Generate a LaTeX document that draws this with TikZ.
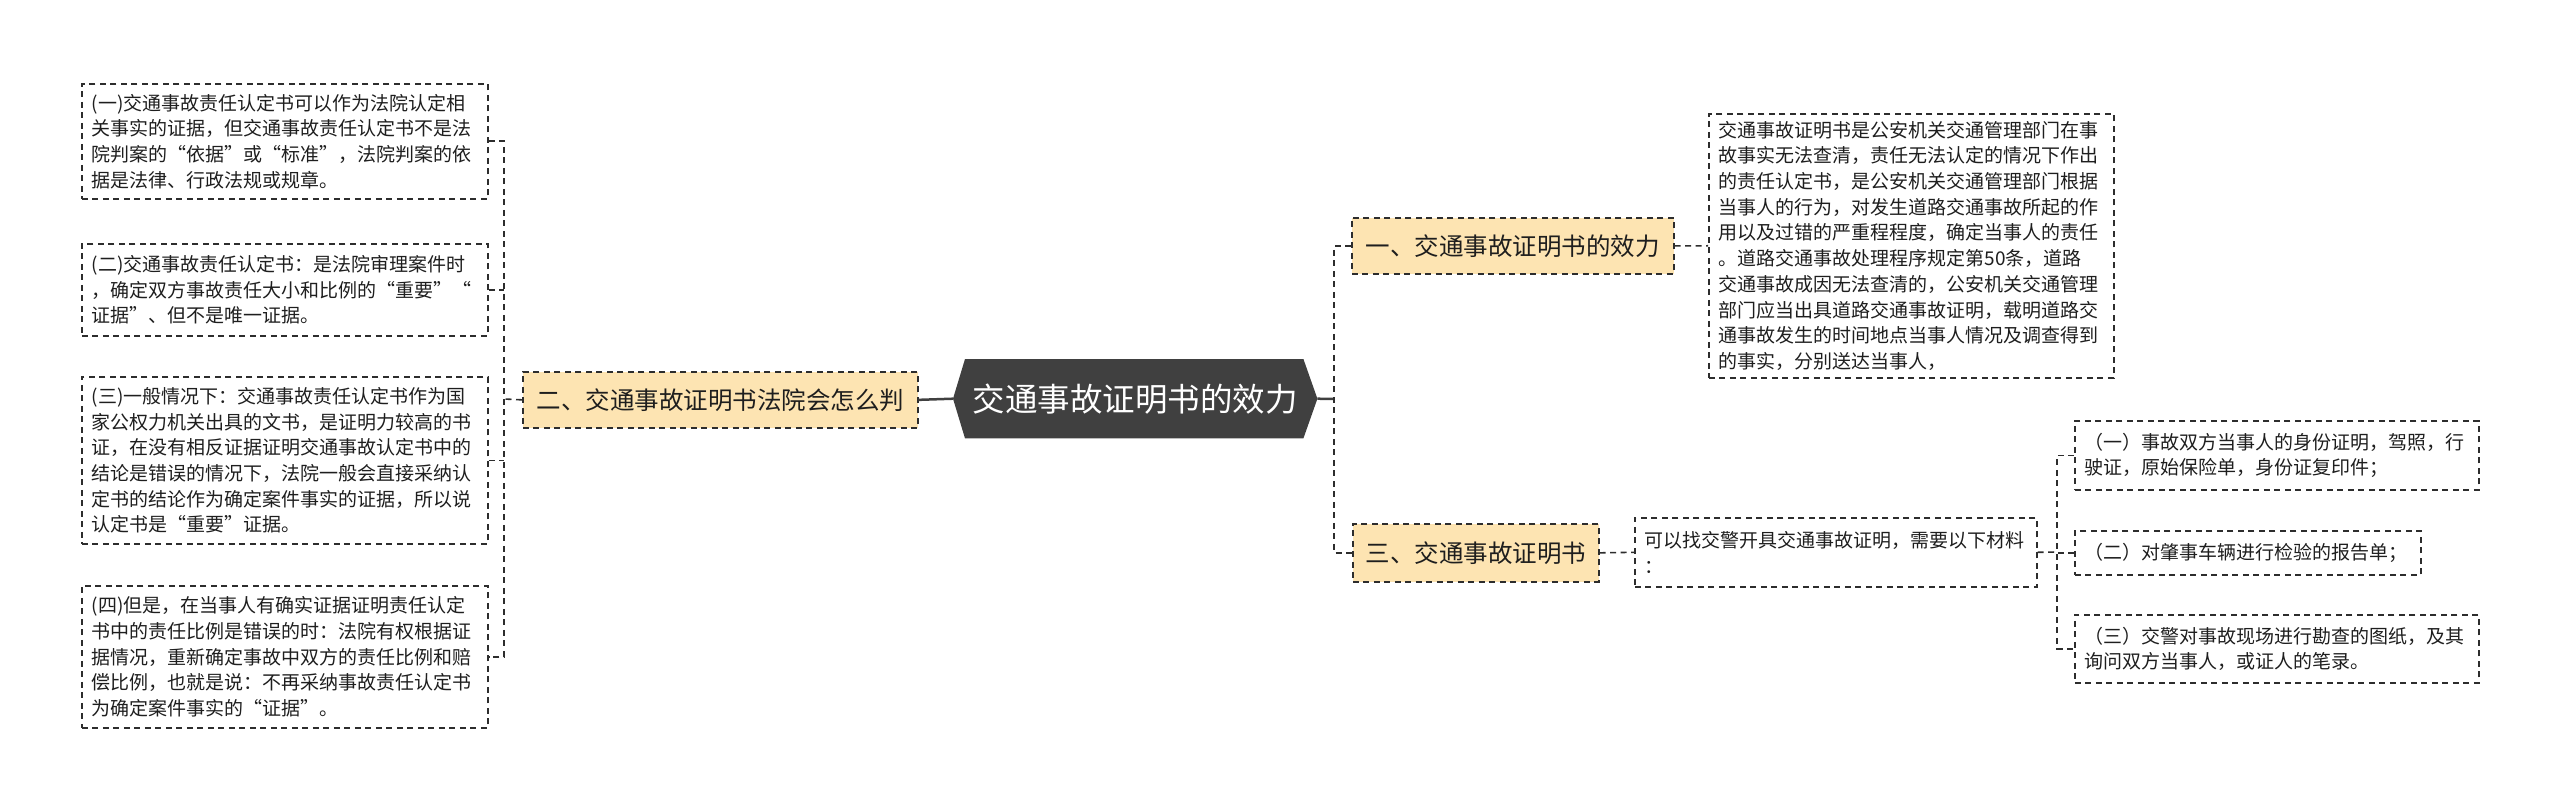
\documentclass[tikz,border=0pt]{standalone}
\usepackage{fontspec}
\setmainfont{Noto Sans CJK SC}
\definecolor{linegray}{RGB}{45,45,45}
\definecolor{boxyellow}{RGB}{253,228,178}
\definecolor{rootgray}{RGB}{64,64,64}
\definecolor{txt}{RGB}{30,30,30}
\pgfdeclarelayer{background}
\pgfsetlayers{background,main}
\newcommand\smalltext{\fontsize{19pt}{25.7pt}\selectfont}
\newcommand\midtext{\fontsize{24.5pt}{29pt}\selectfont}
\newcommand\roottext{\fontsize{32.5pt}{38pt}\selectfont}
\tikzset{
  dashpat/.style={dash pattern=on 6pt off 4.5pt},
  textbox/.style={draw=linegray, line width=1.6pt, dashpat, anchor=north west, rectangle,
    inner xsep=10pt, inner ysep=0pt, align=left, font=\smalltext, text=txt},
  topic/.style={draw=linegray, line width=1.7pt, dashpat, fill=boxyellow, anchor=north west,
    rectangle, inner sep=0pt, align=center, font=\midtext, text=txt},
  rootnode/.style={anchor=north west, rectangle, inner sep=0pt, align=center,
    font=\roottext, text=white},
  conn/.style={draw=linegray, line width=1.6pt, dashpat},
  rootline/.style={draw=rootgray, line width=2.5pt},
}
\begin{document}
\begin{tikzpicture}[x=1pt,y=-1pt]
\useasboundingbox (0,0) rectangle (2560,810);

% left detail boxes
\node[textbox, text width=386pt, minimum width=406pt, minimum height=115pt] (L1) at (81,83)
{(一)交通事故责任认定书可以作为法院认定相\\关事实的证据，但交通事故责任认定书不是法\\院判案的“依据”或“标准”，法院判案的依\\据是法律、行政法规或规章。};
\node[textbox, text width=386pt, minimum width=406pt, minimum height=92pt] (L2) at (81,243)
{(二)交通事故责任认定书：是法院审理案件时\\，确定双方事故责任大小和比例的“重要”“\\证据”、但不是唯一证据。};
\node[textbox, text width=386pt, minimum width=406pt, minimum height=167pt] (L3) at (81,376)
{(三)一般情况下：交通事故责任认定书作为国\\家公权力机关出具的文书，是证明力较高的书\\证，在没有相反证据证明交通事故认定书中的\\结论是错误的情况下，法院一般会直接采纳认\\定书的结论作为确定案件事实的证据，所以说\\认定书是“重要”证据。};
\node[textbox, text width=386pt, minimum width=406pt, minimum height=142pt] (L4) at (81,585)
{(四)但是，在当事人有确实证据证明责任认定\\书中的责任比例是错误的时：法院有权根据证\\据情况，重新确定事故中双方的责任比例和赔\\偿比例，也就是说：不再采纳事故责任认定书\\为确定案件事实的“证据”。};

% topic nodes
\node[topic, minimum width=395pt, minimum height=56pt] (two) at (522,371) {二、交通事故证明书法院会怎么判};
\node[topic, minimum width=322pt, minimum height=56pt] (one) at (1351,217) {一、交通事故证明书的效力};
\node[topic, minimum width=246pt, minimum height=58pt] (three) at (1352,523) {三、交通事故证明书};

% root
\node[rootnode, minimum width=364pt, minimum height=79pt] (root) at (953,359) {交通事故证明书的效力};
\begin{pgfonlayer}{background}
\fill[rootgray] (root.west) -- ([xshift=12pt]root.north west) -- ([xshift=-14pt]root.north east)
  -- (root.east) -- ([xshift=-14pt]root.south east) -- ([xshift=12pt]root.south west) -- cycle;
\end{pgfonlayer}

% right side boxes
\node[textbox, text width=385pt, minimum width=405pt, minimum height=264pt] (desc) at (1708,113)
{交通事故证明书是公安机关交通管理部门在事\\故事实无法查清，责任无法认定的情况下作出\\的责任认定书，是公安机关交通管理部门根据\\当事人的行为，对发生道路交通事故所起的作\\用以及过错的严重程程度，确定当事人的责任\\。道路交通事故处理程序规定第50条，道路\\交通事故成因无法查清的，公安机关交通管理\\部门应当出具道路交通事故证明，载明道路交\\通事故发生的时间地点当事人情况及调查得到\\的事实，分别送达当事人，};
\node[textbox, text width=382pt, minimum width=402pt, minimum height=69pt] (mat) at (1634,517)
{可以找交警开具交通事故证明，需要以下材料\\：};
\node[textbox, text width=384pt, minimum width=404pt, minimum height=69pt] (R1) at (2074,420)
{（一）事故双方当事人的身份证明，驾照，行\\驶证，原始保险单，身份证复印件；};
\node[textbox, text width=326pt, minimum width=346pt, minimum height=44pt] (R2) at (2074,530)
{（二）对肇事车辆进行检验的报告单；};
\node[textbox, text width=384pt, minimum width=404pt, minimum height=68pt] (R3) at (2074,614)
{（三）交警对事故现场进行勘查的图纸，及其\\询问双方当事人，或证人的笔录。};

% junctions
\coordinate (lj) at (504,399);
\coordinate (rj) at (1334,399);
\coordinate (mj) at (2057,552);

% connectors
\draw[rootline] (root.west) -- (two.east);
\draw[rootline] (root.east) -- (rj);
\draw[conn] (two.west) -- (lj);
\draw[conn] (L1.east) -- (L1.east -| lj) -- (L4.east -| lj) -- (L4.east);
\draw[conn] (L2.east) -- (L2.east -| lj);
\draw[conn] (L3.east) -- (L3.east -| lj);
\draw[conn] (one.west) -- (one.west -| rj) -- (three.west -| rj) -- (three.west);
\draw[conn] (one.east) -- (desc.west);
\draw[conn] (three.east) -- (mat.west);
\draw[conn] (mat.east) -- (mj);
\draw[conn] (R1.west) -- (R1.west -| mj) -- (R3.west -| mj) -- (R3.west);
\draw[conn] (R2.west) -- (R2.west -| mj);
\end{tikzpicture}
\end{document}
